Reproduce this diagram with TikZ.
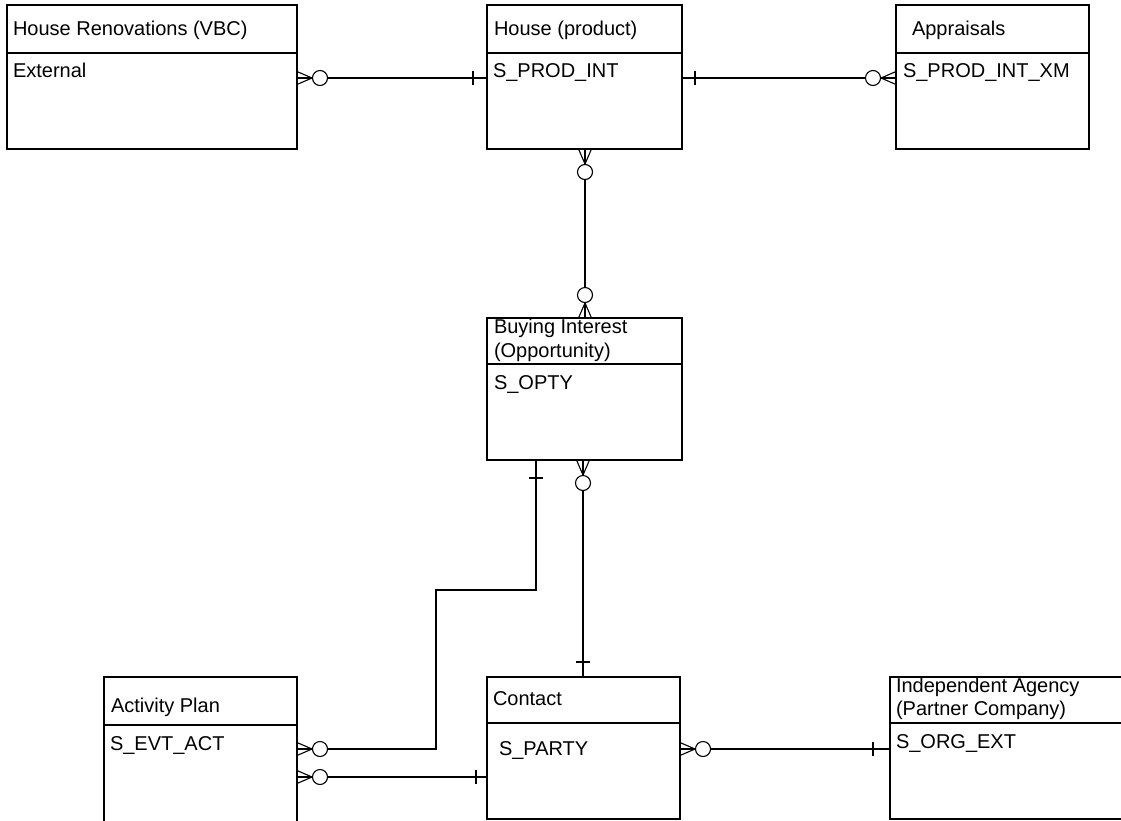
\documentclass[tikz,border=0pt]{standalone}
\usepackage{fontspec}
\setmainfont{Liberation Sans}
\usetikzlibrary{calc}
\tikzset{
  entity/.style={draw, line width=1.2pt, rectangle, inner sep=0pt, outer sep=0pt, anchor=north west},
  lbl/.style={anchor=base west, inner sep=0pt, outer sep=0pt, font=\fontsize{20}{23}\selectfont},
  rel/.style={line width=1.2pt},
  zeromany/.pic={
    \draw[line width=1.1pt] (0,6.5)--(15,0) (0,-6.5)--(15,0) (0,0)--(15,0);
    \draw[line width=1.1pt, fill=white] (23,0) circle[radius=7.5];
  },
  onebar/.pic={\draw[line width=1.1pt] (0,-7)--(0,7);}
}
\begin{document}
\begin{tikzpicture}[x=1pt, y=1pt]
\useasboundingbox (0,0) rectangle (1121,-820);
\clip (0,0) rectangle (1121,-820);
\fill[white] (0,0) rectangle (1121,-820);

% entity boxes
\node[entity, minimum width=290pt, minimum height=144pt] (hr) at (7,-5) {};
\node[entity, minimum width=195pt, minimum height=144pt] (hp) at (487,-5) {};
\node[entity, minimum width=193pt, minimum height=144pt] (ap) at (896,-5) {};
\node[entity, minimum width=195pt, minimum height=142pt] (bi) at (487,-318) {};
\node[entity, minimum width=193pt, minimum height=160pt] (act) at (104,-677) {};
\node[entity, minimum width=193pt, minimum height=142pt] (ct) at (487,-677) {};
\node[entity, minimum width=250pt, minimum height=142pt] (ia) at (890,-677) {};

% header dividers
\draw[rel] ($(hr.north west)+(0,-48)$) -- ($(hr.north east)+(0,-48)$);
\draw[rel] ($(hp.north west)+(0,-48)$) -- ($(hp.north east)+(0,-48)$);
\draw[rel] ($(ap.north west)+(0,-48)$) -- ($(ap.north east)+(0,-48)$);
\draw[rel] ($(bi.north west)+(0,-46)$) -- ($(bi.north east)+(0,-46)$);
\draw[rel] ($(act.north west)+(0,-48)$) -- ($(act.north east)+(0,-48)$);
\draw[rel] ($(ct.north west)+(0,-46)$) -- ($(ct.north east)+(0,-46)$);
\draw[rel] ($(ia.north west)+(0,-46)$) -- ($(ia.north east)+(0,-46)$);

% labels
\node[lbl] (hrT) at (13,-35) {House Renovations (VBC)};
\node[lbl] (hrA) at (13,-77) {External};
\node[lbl] (hpT) at (494,-35) {House (product)};
\node[lbl] (hpA) at (493,-77) {S\_PROD\_INT};
\node[lbl] (apT) at (912,-35) {Appraisals};
\node[lbl] (apA) at (903,-77) {S\_PROD\_INT\_XM};
\node[lbl] (biT1) at (494,-333) {Buying Interest};
\node[lbl] (biT2) at (494,-357) {(Opportunity)};
\node[lbl] (biA) at (494,-389) {S\_OPTY};
\node[lbl] (actT) at (111,-712) {Activity Plan};
\node[lbl] (actA) at (110,-750) {S\_EVT\_ACT};
\node[lbl] (ctT) at (493,-705) {Contact};
\node[lbl] (ctA) at (499,-755) {S\_PARTY};
\node[lbl] (iaT1) at (896,-692) {Independent Agency};
\node[lbl] (iaT2) at (896,-715) {(Partner Company)};
\node[lbl] (iaA) at (896,-748) {S\_ORG\_EXT};

% connector end points
\coordinate (r1a) at ($(hr.north east)+(0,-73)$);
\coordinate (r1b) at ($(hp.north west)+(0,-73)$);
\coordinate (r2a) at ($(hp.north east)+(0,-73)$);
\coordinate (r2b) at ($(ap.north west)+(0,-73)$);
\coordinate (r3a) at ($(hp.south)+(0.5,0)$);
\coordinate (r3b) at ($(bi.north)+(0.5,0)$);
\coordinate (r4a) at ($(bi.south)+(-1.5,0)$);
\coordinate (r4b) at (r4a |- ct.north);
\coordinate (r5a) at ($(bi.south west)+(49,0)$);
\coordinate (r5m1) at ($(r5a)+(0,-130)$);
\coordinate (r5m2) at ($(r5m1)+(-100,0)$);
\coordinate (r5b) at ($(act.north east)+(0,-72)$);
\coordinate (r6a) at ($(act.north east)+(0,-100)$);
\coordinate (r6b) at (ct.west |- r6a);
\coordinate (r7a) at ($(ct.north east)+(0,-72)$);
\coordinate (r7b) at (ia.west |- r7a);

% relationship lines
\draw[rel] (r1a) -- (r1b);
\draw[rel] (r2a) -- (r2b);
\draw[rel] (r3a) -- (r3b);
\draw[rel] (r4a) -- (r4b);
\draw[rel] (r5a) -- (r5m1) -- (r5m2) -- (r5m2 |- r5b) -- (r5b);
\draw[rel] (r6a) -- (r6b);
\draw[rel] (r7a) -- (r7b);

% cardinality marks
\pic at (r1a) {zeromany};
\pic at ($(r1b)+(-14,0)$) {onebar};
\pic at ($(r2a)+(13,0)$) {onebar};
\pic[rotate=180] at (r2b) {zeromany};
\pic[rotate=-90] at (r3a) {zeromany};
\pic[rotate=90] at (r3b) {zeromany};
\pic[rotate=-90] at (r4a) {zeromany};
\pic[rotate=90] at ($(r4b)+(0,15)$) {onebar};
\pic[rotate=90] at ($(r5a)+(0,-18)$) {onebar};
\pic at (r5b) {zeromany};
\pic at (r6a) {zeromany};
\pic at ($(r6b)+(-11,0)$) {onebar};
\pic at (r7a) {zeromany};
\pic at ($(r7b)+(-17,0)$) {onebar};
\end{tikzpicture}
\end{document}
